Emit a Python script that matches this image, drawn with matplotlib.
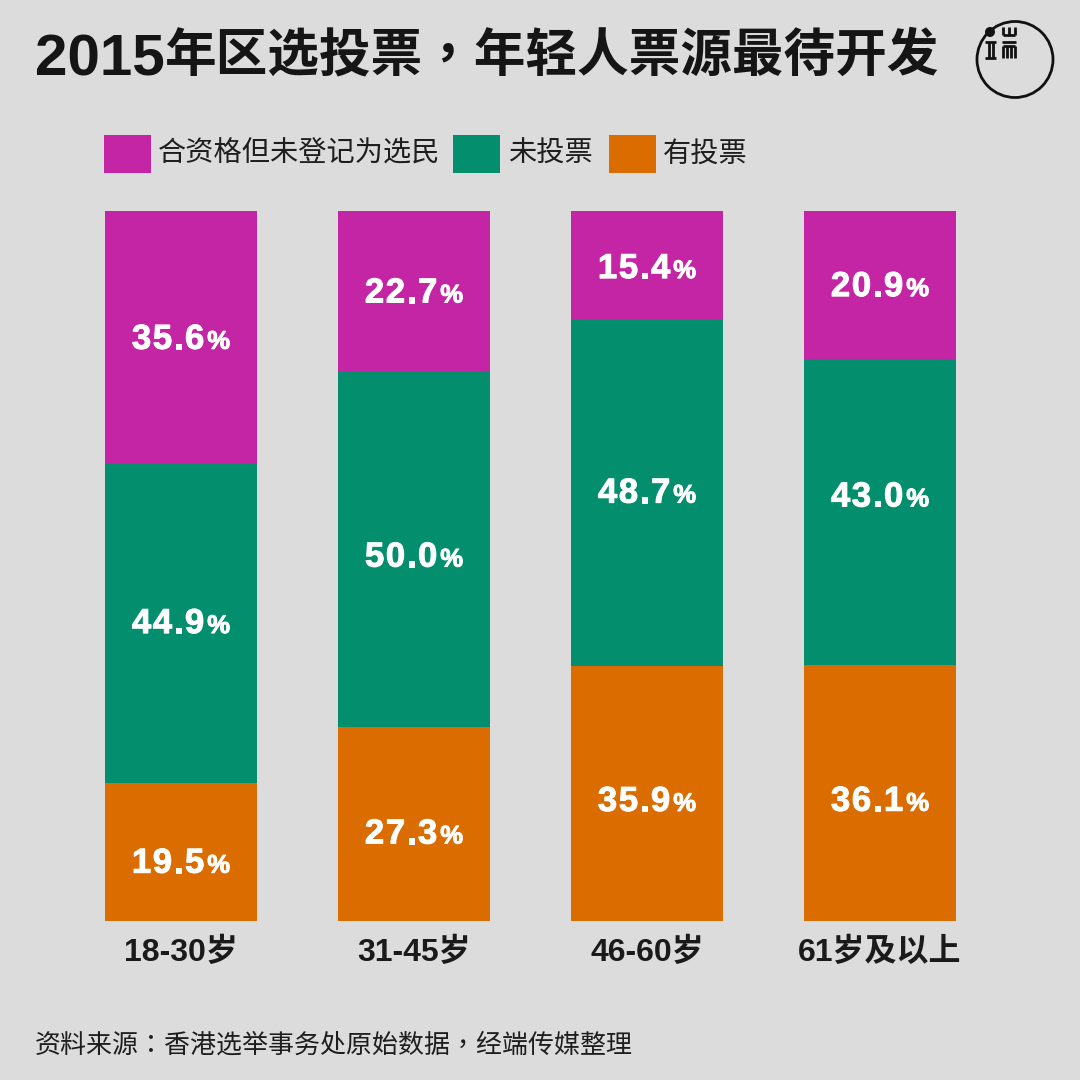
import matplotlib
matplotlib.use("Agg")
import matplotlib.pyplot as plt
from matplotlib.lines import Line2D
from matplotlib.patches import Circle, Rectangle
import matplotlib.patheffects as pe

plt.rcParams['font.family'] = ['Liberation Sans', 'Noto Sans CJK SC', 'DejaVu Sans']

categories = ["18-30岁", "31-45岁", "46-60岁", "61岁及以上"]
series_names = ["合资格但未登记为选民", "未投票", "有投票"]
voted = [19.5, 27.3, 35.9, 36.1]
not_voted = [44.9, 50.0, 48.7, 43.0]
unregistered = [35.6, 22.7, 15.4, 20.9]

# hand-placed label nudges in pixels (downward positive), per layer
nudge_voted = [8.5, 7, 5, 5.5]
nudge_not_voted = [-2.5, 4.5, -3, -18]
nudge_unregistered = [-1, -1.5, 0, -1.5]

C_PURPLE = "#C425A4"
C_GREEN = "#038F6E"
C_ORANGE = "#DA6C00"
BG = "#DCDCDC"

W, H = 1080, 1080
fig = plt.figure(figsize=(10.8, 10.8), dpi=100, facecolor=BG)
PX = 0.72  # points per pixel at dpi 100

ax_bottom = 1 - 921 / H
ax_height = (921 - 211) / H
ax = fig.add_axes([0, ax_bottom, 1, ax_height])
ax.set_facecolor("none")
spacing = 233.0
x0 = -181 / spacing
ax.set_xlim(x0, x0 + W / spacing)
ax.set_ylim(0, 100)
ax.axis("off")

xs = list(range(len(categories)))
bw = 152 / spacing

NUM_SIZE = 25.0
PCT_SIZE = 18.5
TRACK = 1.6   # px between characters
PCT_GAP = 3.0
ADV = {'.': 0.278, '%': 0.889}
num_font = dict(family=['Liberation Sans', 'DejaVu Sans'], weight='bold', color='white',
                path_effects=[pe.withStroke(linewidth=0.7, foreground='white')])


def draw_label(x, y, value, nudge):
    s = f"{value:.1f}"
    em = NUM_SIZE / PX
    pem = PCT_SIZE / PX
    widths = [ADV.get(ch, 0.556) * em for ch in s]
    pw = ADV['%'] * pem
    total = sum(widths) + TRACK * (len(s) - 1) + PCT_GAP + pw
    cx = -total / 2
    cap = 0.716 * em
    base_dy = -(nudge + cap / 2)  # px, upward positive
    for ch, w in zip(s, widths):
        ax.annotate(ch, xy=(x, y), xytext=((cx + w / 2) * PX, base_dy * PX),
                    textcoords='offset points', ha='center', va='baseline',
                    fontsize=NUM_SIZE, **num_font)
        cx += w + TRACK
    cx += PCT_GAP - TRACK
    ax.annotate('%', xy=(x, y), xytext=((cx + pw / 2) * PX, base_dy * PX),
                textcoords='offset points', ha='center', va='baseline',
                fontsize=PCT_SIZE, **num_font)


layers = [(voted, C_ORANGE, nudge_voted),
          (not_voted, C_GREEN, nudge_not_voted),
          (unregistered, C_PURPLE, nudge_unregistered)]
bottoms = [0.0] * len(xs)
for vals, col, nud in layers:
    ax.bar(xs, vals, bottom=bottoms, width=bw, color=col, edgecolor='none')
    for i, v in enumerate(vals):
        draw_label(i, bottoms[i] + v / 2, v, nud[i])
    bottoms = [b + v for b, v in zip(bottoms, vals)]

for i, c in enumerate(categories):
    ax.annotate(c, xy=(i, 0), xytext=(0, -32 * PX), textcoords='offset points',
                ha='center', va='center', fontsize=23, weight='bold', color='#1a1a1a',
                family=['Liberation Sans', 'Noto Sans CJK SC'], annotation_clip=False)

# overlay axes in pixel coordinates for title, legend, logo, source
ov = fig.add_axes([0, 0, 1, 1])
ov.set_xlim(0, W)
ov.set_ylim(H, 0)
ov.axis("off")
ov.set_facecolor("none")

ov.text(35, 75.5, "2015", ha='left', va='baseline', fontsize=42, weight='bold',
        color='#151515', family=['Liberation Sans', 'DejaVu Sans'])
ov.text(164, 55, "年区选投票，年轻人票源最待开发", ha='left', va='center',
        fontsize=37.2, weight='heavy', color='#151515',
        family=['Noto Sans CJK TC', 'Noto Sans CJK SC', 'DejaVu Sans'])

# legend
leg_items = [(104, 158, series_names[0], C_PURPLE),
             (453, 508, series_names[1], C_GREEN),
             (609, 663, series_names[2], C_ORANGE)]
for sx, tx, label, col in leg_items:
    ov.add_patch(Rectangle((sx, 135), 47, 38, color=col, lw=0))
    ov.text(tx, 154, label, ha='left', va='center', fontsize=20.3, color='#1e1e1e',
            family=['Noto Sans CJK SC', 'DejaVu Sans'])

# source
ov.text(35, 1045, "资料来源：香港选举事务处原始数据，经端传媒整理", ha='left', va='center',
        fontsize=18.7, color='#1e1e1e', family=['Noto Sans CJK TC', 'Noto Sans CJK SC', 'DejaVu Sans'])

# logo
ov.add_patch(Circle((1015, 59.5), 38, fill=False, ec='#111111', lw=2))
ov.add_patch(Circle((990, 32), 5, color='#111111', lw=0))
lk = dict(color='#111111', lw=2, solid_capstyle='butt')
segs = [
    ((985, 996), (42, 42)), ((985, 996), (57.5, 57.5)),
    ((989, 989), (42, 57.5)), ((993, 993), (42, 57.5)),
    ((1003, 1015), (35, 35)), ((1003, 1003), (27, 35)), ((1009, 1009), (27, 35)), ((1015, 1015), (27, 35)),
    ((1002, 1016), (42, 42)), ((1003, 1003), (46, 58)), ((1015, 1015), (46, 58)),
    ((1003, 1015), (46, 46)), ((1007, 1007), (46, 58)), ((1011, 1011), (46, 58)),
]
for xsg, ysg in segs:
    ov.add_line(Line2D(xsg, ysg, **lk))

fig.savefig("out.png", dpi=100, facecolor=BG)
